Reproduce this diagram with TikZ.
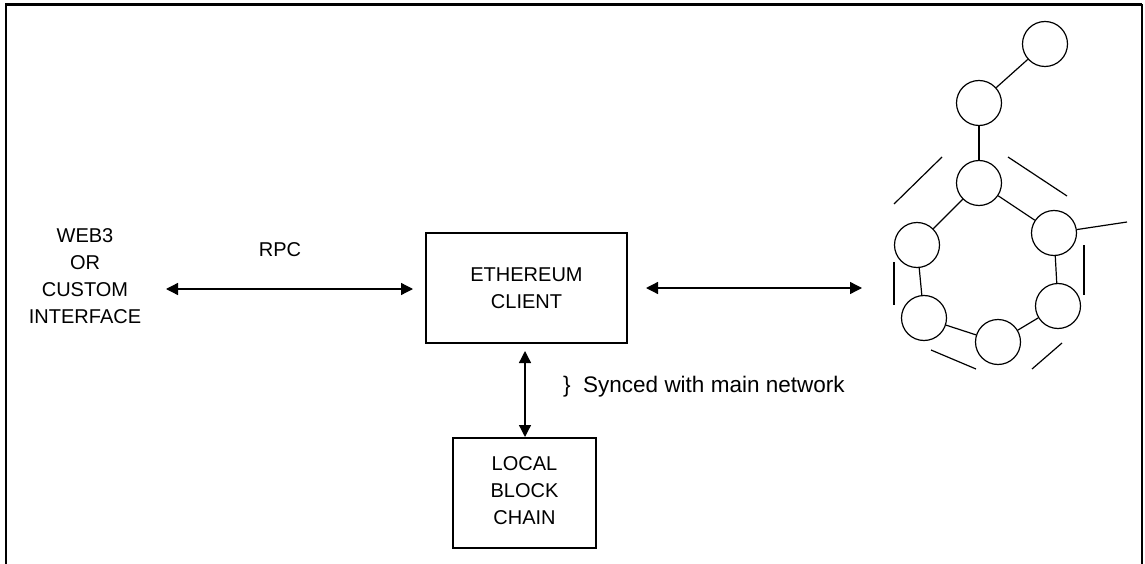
\documentclass[tikz,border=0pt]{standalone}
\usepackage{fontspec}
\setmainfont{Liberation Sans}
\usetikzlibrary{arrows.meta}
\begin{document}
\begin{tikzpicture}[x=1pt,y=-1pt,
  lbl/.style={inner sep=0pt,align=center,font=\fontsize{20}{27}\selectfont},
  boxnode/.style={draw,line width=1.3pt,inner sep=0pt},
  peer/.style={draw,circle,line width=1.2pt,minimum size=45pt,inner sep=0pt},
  link/.style={line width=1.2pt},
  biarrow/.style={line width=1.3pt,{Triangle[length=12pt,width=12pt]}-{Triangle[length=12pt,width=12pt]}}]
\useasboundingbox (0,0) rectangle (1145,564);
% frame
\draw[line width=2.4pt] (6,564) -- (6,4.5) -- (1142,4.5);
\draw[line width=1.3pt] (1142,4.5) -- (1142,564);
% boxes
\node[boxnode,minimum width=201pt,minimum height=110pt] (eth) at (526.5,288) {};
\node[lbl] (ethtxt) at (526.5,288) {ETHEREUM\\CLIENT};
\node[boxnode,minimum width=143pt,minimum height=110pt] (lbc) at (524.5,493) {};
\node[lbl] (lbctxt) at (524.5,491) {LOCAL\\BLOCK\\CHAIN};
% left text
\node[lbl] (web) at (85,276.5) {WEB3\\OR\\CUSTOM\\INTERFACE};
\node[lbl] (rpc) at (280,250) {RPC};
% arrow endpoints
\coordinate (a1) at (166,289);
\coordinate (a2) at (413,289);
\coordinate (b1) at (646,288);
\coordinate (b2) at (862,288);
\coordinate (c1) at (525,351);
\coordinate (c2) at (525,437);
\draw[biarrow] (a1) -- (a2);
\draw[biarrow] (b1) -- (b2);
\draw[biarrow] (c1) -- (c2);
\node[anchor=west,inner sep=0pt,font=\fontsize{22.5}{26}\selectfont] (sync) at (563,387) {\}\ \ Synced with main network};
% network
\node[peer] (n1) at (1045,44) {};
\node[peer] (n2) at (979,103) {};
\node[peer] (n3) at (979,183) {};
\node[peer] (n4) at (1054,233) {};
\node[peer] (n5) at (917,245) {};
\node[peer] (n6) at (924,318) {};
\node[peer] (n7) at (998,342) {};
\node[peer] (n8) at (1058,306) {};
\coordinate (f1) at (1127,222);
\draw[link] (n1) -- (n2);
\draw[link] (n2) -- (n3);
\draw[link] (n3) -- (n5);
\draw[link] (n3) -- (n4);
\draw[link] (n5) -- (n6);
\draw[link] (n6) -- (n7);
\draw[link] (n7) -- (n8);
\draw[link] (n8) -- (n4);
\draw[link] (n4) -- (f1);
% loose segments
\draw[link] (894,204) -- (942,157);
\draw[link] (1008,157) -- (1067,196);
\draw[link] (1084,245) -- (1084,295);
\draw[link] (894,262) -- (894,305);
\draw[link] (931,350) -- (976,369);
\draw[link] (1032,369) -- (1062,343);
\end{tikzpicture}
\end{document}
